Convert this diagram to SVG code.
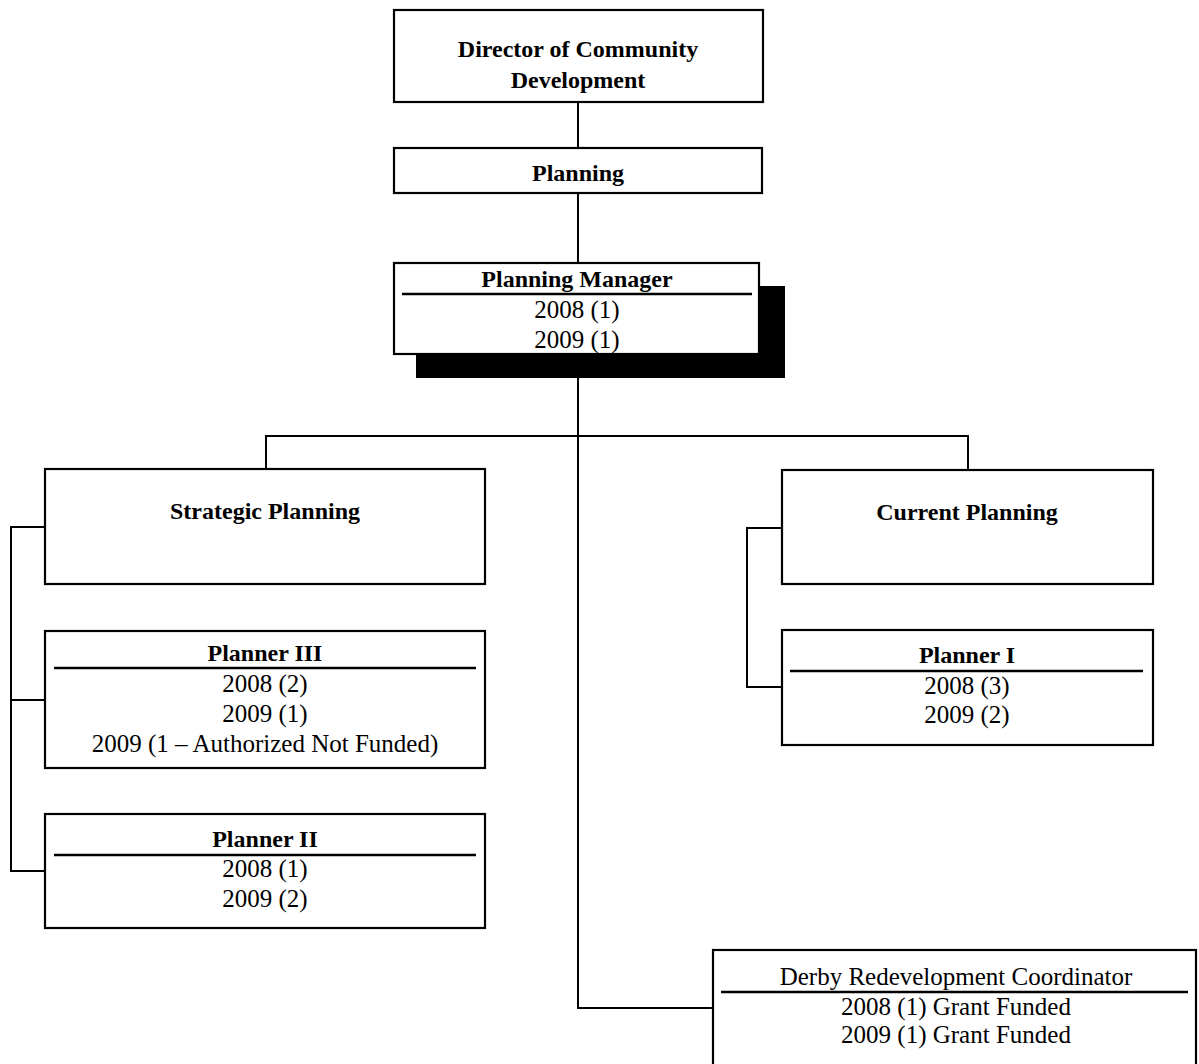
<svg xmlns="http://www.w3.org/2000/svg" width="1199" height="1064" viewBox="0 0 1199 1064">
<style>
.box{fill:#fff;stroke:#000;stroke-width:2.2}
.sep{stroke:#000;stroke-width:2.5}
.conn{fill:none;stroke:#000;stroke-width:2}
text{font-family:"Liberation Serif","Times New Roman",serif;fill:#000;text-anchor:middle}
.t{font-size:24px;font-weight:bold}
.v{font-size:25px}
</style>
<rect width="1199" height="1064" fill="#fff"/>
<g id="connectors">
<path class="conn" d="M578 102V148M578 193V263"/>
<path class="conn" d="M578 378V1008H713"/>
<path class="conn" d="M266 469V436H968V470"/>
<path class="conn" d="M45 527H11V871H45M11 700H45"/>
<path class="conn" d="M782 528H747V687H782"/>
</g>
<g id="director">
<rect class="box" x="394" y="10" width="369" height="92"/>
<text class="t" x="578" y="57">Director of Community</text>
<text class="t" x="578" y="88">Development</text>
</g>
<g id="planning">
<rect class="box" x="394" y="148" width="368" height="45"/>
<text class="t" x="578" y="181">Planning</text>
</g>
<g id="planning-manager">
<rect x="416" y="286" width="369" height="92" fill="#000"/>
<rect class="box" x="394" y="263" width="365" height="91"/>
<line class="sep" x1="402" y1="294" x2="752" y2="294"/>
<text class="t" x="577" y="287">Planning Manager</text>
<text class="v" x="577" y="318">2008 (1)</text>
<text class="v" x="577" y="348">2009 (1)</text>
</g>
<g id="strategic-planning">
<rect class="box" x="45" y="469" width="440" height="115"/>
<text class="t" x="265" y="519">Strategic Planning</text>
</g>
<g id="planner-iii">
<rect class="box" x="45" y="631" width="440" height="137"/>
<line class="sep" x1="54" y1="668" x2="476" y2="668"/>
<text class="t" x="265" y="661">Planner III</text>
<text class="v" x="265" y="692">2008 (2)</text>
<text class="v" x="265" y="722">2009 (1)</text>
<text class="v" x="265" y="752">2009 (1 – Authorized Not Funded)</text>
</g>
<g id="planner-ii">
<rect class="box" x="45" y="814" width="440" height="114"/>
<line class="sep" x1="54" y1="855" x2="476" y2="855"/>
<text class="t" x="265" y="847">Planner II</text>
<text class="v" x="265" y="877">2008 (1)</text>
<text class="v" x="265" y="907">2009 (2)</text>
</g>
<g id="current-planning">
<rect class="box" x="782" y="470" width="371" height="114"/>
<text class="t" x="967" y="520">Current Planning</text>
</g>
<g id="planner-i">
<rect class="box" x="782" y="630" width="371" height="115"/>
<line class="sep" x1="790" y1="671" x2="1143" y2="671"/>
<text class="t" x="967" y="663">Planner I</text>
<text class="v" x="967" y="694">2008 (3)</text>
<text class="v" x="967" y="723">2009 (2)</text>
</g>
<g id="derby-coordinator">
<rect class="box" x="713" y="950" width="483" height="130"/>
<line class="sep" x1="721" y1="992" x2="1188" y2="992"/>
<text class="v" x="956" y="985">Derby Redevelopment Coordinator</text>
<text class="v" x="956" y="1015">2008 (1) Grant Funded</text>
<text class="v" x="956" y="1043">2009 (1) Grant Funded</text>
</g>
</svg>
